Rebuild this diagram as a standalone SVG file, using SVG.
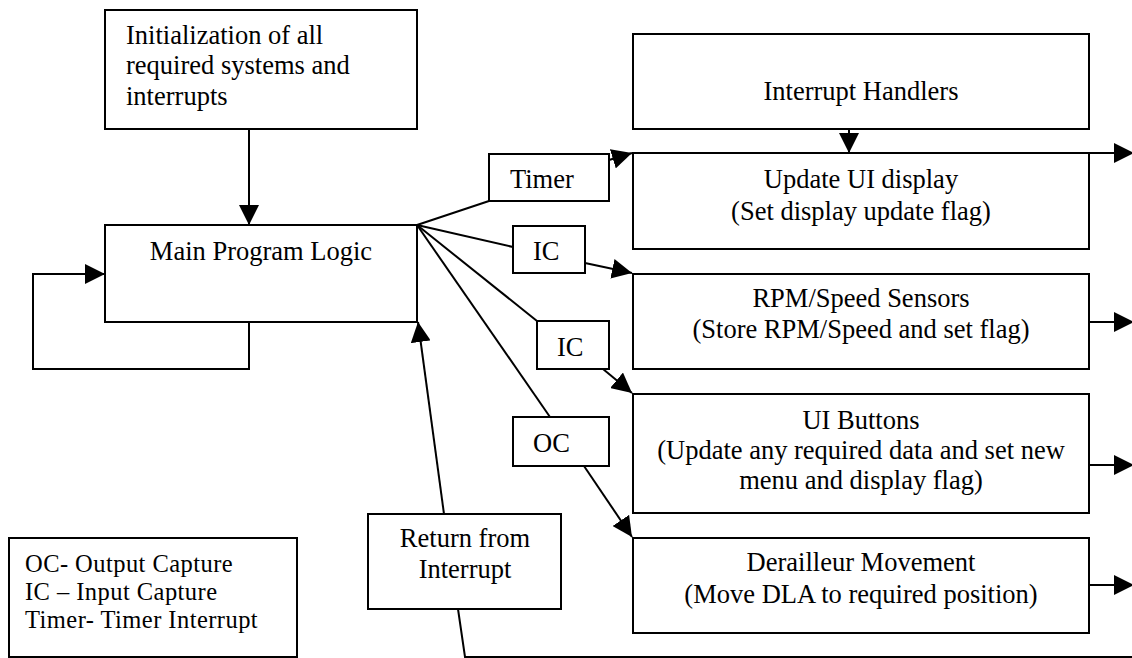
<svg xmlns="http://www.w3.org/2000/svg" width="1132" height="658" viewBox="0 0 1132 658">
<style>
.box{fill:#fff;stroke:#000;stroke-width:2}
.ln{fill:none;stroke:#000;stroke-width:2}
text{font-family:"Liberation Serif","Times New Roman",serif;font-size:26.5px;fill:#000}
.c{text-anchor:middle}
.lg{font-size:24.5px;letter-spacing:0.45px}
</style>
<defs>
<marker id="ah" markerUnits="userSpaceOnUse" markerWidth="20" markerHeight="20" viewBox="0 0 20 20" refX="20" refY="10" orient="auto">
<path d="M0,0 L20,10 L0,20 z" fill="#000"/>
</marker>
</defs>
<rect width="1132" height="658" fill="#fff"/>
<g id="connectors">
<line class="ln" x1="249" y1="129" x2="249" y2="225" marker-end="url(#ah)"/>
<line class="ln" x1="849" y1="129" x2="849" y2="153" marker-end="url(#ah)"/>
<polyline class="ln" points="249,322 249,369 33,369 33,274 105,274" marker-end="url(#ah)"/>
<line class="ln" x1="417" y1="225" x2="489" y2="201"/>
<line class="ln" x1="417" y1="225" x2="513" y2="247"/>
<line class="ln" x1="417" y1="225" x2="537" y2="321"/>
<line class="ln" x1="417" y1="225" x2="550" y2="417"/>
<line class="ln" x1="609" y1="160" x2="632" y2="153" marker-end="url(#ah)"/>
<line class="ln" x1="585" y1="263" x2="632" y2="273" marker-end="url(#ah)"/>
<line class="ln" x1="603" y1="369" x2="632" y2="393" marker-end="url(#ah)"/>
<line class="ln" x1="584" y1="466" x2="632" y2="537" marker-end="url(#ah)"/>
<line class="ln" x1="1089" y1="153" x2="1134" y2="153" marker-end="url(#ah)"/>
<line class="ln" x1="1089" y1="322" x2="1134" y2="322" marker-end="url(#ah)"/>
<line class="ln" x1="1089" y1="465" x2="1134" y2="465" marker-end="url(#ah)"/>
<line class="ln" x1="1089" y1="585" x2="1134" y2="585" marker-end="url(#ah)"/>
<polyline class="ln" points="1132,657 465,657 458,609"/>
<line class="ln" x1="444" y1="514" x2="418" y2="322" marker-end="url(#ah)"/>
</g>
<g id="init">
<rect class="box" x="105" y="10" width="312" height="119"/>
<text x="126" y="44">Initialization of all</text>
<text x="126" y="74">required systems and</text>
<text x="126" y="105">interrupts</text>
</g>
<g id="main">
<rect class="box" x="105" y="225" width="312" height="97"/>
<text class="c" x="261" y="260">Main Program Logic</text>
</g>
<g id="timer">
<rect class="box" x="489" y="154" width="120" height="47"/>
<text x="510" y="188">Timer</text>
</g>
<g id="ic1">
<rect class="box" x="513" y="226" width="72" height="47"/>
<text x="533" y="260">IC</text>
</g>
<g id="ic2">
<rect class="box" x="537" y="321" width="72" height="48"/>
<text x="557" y="356">IC</text>
</g>
<g id="oc">
<rect class="box" x="513" y="417" width="96" height="49"/>
<text x="533" y="452">OC</text>
</g>
<g id="handlers">
<rect class="box" x="633" y="34" width="456" height="95"/>
<text class="c" x="861" y="100">Interrupt Handlers</text>
</g>
<g id="update-ui">
<rect class="box" x="633" y="153" width="456" height="96"/>
<text class="c" x="861" y="188">Update UI display</text>
<text class="c" x="861" y="220">(Set display update flag)</text>
</g>
<g id="rpm">
<rect class="box" x="633" y="274" width="456" height="95"/>
<text class="c" x="861" y="307">RPM/Speed Sensors</text>
<text class="c" x="861" y="338">(Store RPM/Speed and set flag)</text>
</g>
<g id="buttons">
<rect class="box" x="633" y="394" width="456" height="119"/>
<text class="c" x="861" y="429">UI Buttons</text>
<text class="c" x="861" y="459">(Update any required data and set new</text>
<text class="c" x="861" y="489">menu and display flag)</text>
</g>
<g id="derailleur">
<rect class="box" x="633" y="538" width="456" height="95"/>
<text class="c" x="861" y="571">Derailleur Movement</text>
<text class="c" x="861" y="603">(Move DLA to required position)</text>
</g>
<g id="return">
<rect class="box" x="368" y="514" width="193" height="95"/>
<text class="c" x="465" y="547">Return from</text>
<text class="c" x="465" y="578">Interrupt</text>
</g>
<g id="legend">
<rect class="box" x="9" y="538" width="288" height="119"/>
<text class="lg" x="25" y="572">OC- Output Capture</text>
<text class="lg" x="25" y="600">IC – Input Capture</text>
<text class="lg" x="25" y="628">Timer- Timer Interrupt</text>
</g>
</svg>
